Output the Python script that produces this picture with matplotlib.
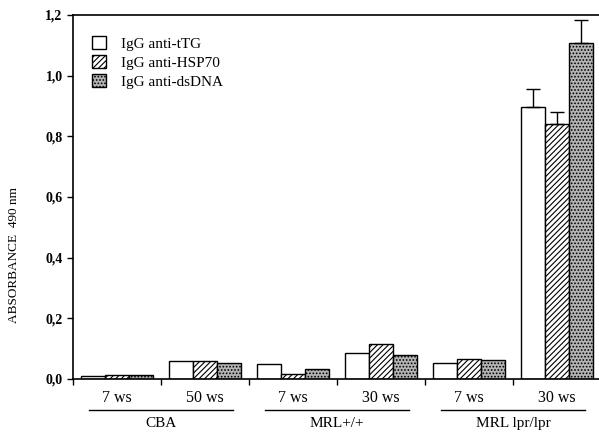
import matplotlib
import matplotlib.pyplot as plt
import numpy as np
from matplotlib.transforms import blended_transform_factory

matplotlib.use("Agg")

plt.rcParams["font.family"] = ["Liberation Serif", "DejaVu Serif"]
plt.rcParams["hatch.linewidth"] = 0.8

ages = ["7 ws", "50 ws", "7 ws", "30 ws", "7 ws", "30 ws"]
strains = ["CBA", "MRL+/+", "MRL lpr/lpr"]
series = ["IgG anti-tTG", "IgG anti-HSP70", "IgG anti-dsDNA"]

ttg = [0.010, 0.059, 0.050, 0.085, 0.054, 0.897]
hsp70 = [0.012, 0.060, 0.016, 0.115, 0.065, 0.839]
dsdna = [0.012, 0.053, 0.033, 0.080, 0.063, 1.109]

ttg_err = [0, 0, 0, 0, 0, 0.058]
hsp70_err = [0, 0, 0, 0, 0, 0.040]
dsdna_err = [0, 0, 0, 0, 0, 0.076]

fig = plt.figure(figsize=(5.99, 4.32), dpi=100)
ax = fig.add_axes([0.122, 0.1227, 0.8815, 0.8426])

x = np.arange(len(ages))
w = 0.27
styles = [
    dict(facecolor="white", hatch=None),
    dict(facecolor="white", hatch="//////"),
    dict(facecolor="#b4b4b4", hatch="....."),
]
values = [ttg, hsp70, dsdna]
errors = [ttg_err, hsp70_err, dsdna_err]
for i, (vals, errs, st, name) in enumerate(zip(values, errors, styles, series)):
    ax.bar(x + (i - 1) * w, vals, w, label=name, facecolor=st["facecolor"],
           hatch=st["hatch"], edgecolor="black", linewidth=1.0)
    errs = np.array(errs)
    m = errs > 0
    ax.errorbar((x + (i - 1) * w)[m], np.array(vals)[m], yerr=[np.zeros(m.sum()), errs[m]],
                fmt="none", ecolor="black", elinewidth=1.0, capsize=5, capthick=1.0)

ax.set_xlim(-0.5, 5.5)
ax.set_ylim(0, 1.2)
ax.set_yticks(np.arange(0, 1.21, 0.2))
ax.set_yticklabels([f"{v:.1f}".replace(".", ",") for v in np.arange(0, 1.21, 0.2)],
                   fontsize=10, fontweight="bold")
ax.set_xticks(x)
ax.set_xticklabels(ages, fontsize=11.5)
ax.set_xticks(np.arange(-0.5, 5.0, 1.0), minor=True)
ax.tick_params(axis="x", which="major", length=0, pad=8)
ax.tick_params(axis="x", which="minor", length=4, direction="out", width=1)
ax.tick_params(axis="y", length=4, direction="out", width=1)
ax.spines["right"].set_visible(False)
for s in ["top", "left", "bottom"]:
    ax.spines[s].set_linewidth(1.2)

trans = blended_transform_factory(ax.transData, ax.transAxes)
for k, name in enumerate(strains):
    c = 2 * k + 0.5
    ax.plot([c - 0.82, c + 0.82], [-0.085, -0.085], color="black", lw=1.0,
            transform=trans, clip_on=False)
    ax.text(c, -0.122, name, transform=trans, ha="center", va="center", fontsize=11)

fig.text(0.024, 0.41, "ABSORBANCE  490 nm", rotation=90, ha="center", va="center", fontsize=9.5)

ax.legend(loc="upper left", bbox_to_anchor=(0.01, 0.98), frameon=False, fontsize=11,
          handlelength=0.9, handleheight=0.9, handletextpad=1.0, labelspacing=0.3)

fig.savefig("out.png", dpi=100)
